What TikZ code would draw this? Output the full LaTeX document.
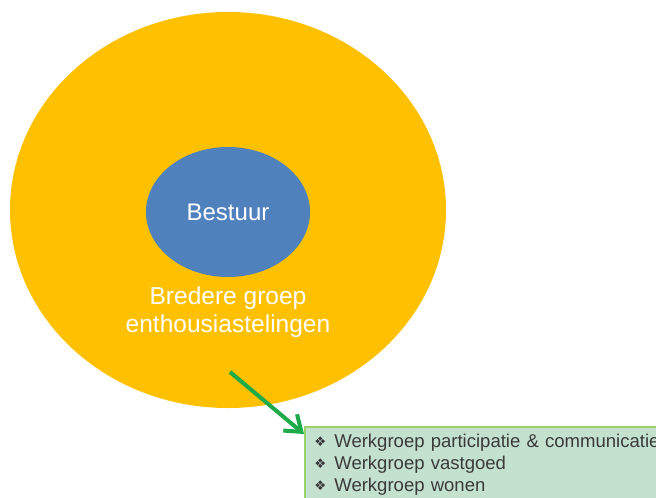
\documentclass[tikz,border=0pt]{standalone}
\usepackage{fontspec}
\setmainfont{Liberation Sans}
\newfontfamily\symfont{DejaVu Sans}
\usetikzlibrary{shapes.geometric,arrows.meta}

\definecolor{groeporange}{HTML}{FFC000}
\definecolor{bestuurblue}{HTML}{4F81BD}
\definecolor{pijlgreen}{HTML}{1DAA48}
\definecolor{boxfill}{HTML}{C4E1CF}
\definecolor{boxline}{HTML}{9AD26A}
\definecolor{boxtext}{HTML}{3A3A3A}

\newcommand{\wgbullet}{\makebox[15pt][l]{\raisebox{0.5pt}{\symfont\fontsize{10}{10}\selectfont ❖}}}

\tikzset{
  blob/.style={ellipse, inner sep=0pt, text=white},
  wgbox/.style={draw=boxline, line width=1.5pt, fill=boxfill, text=boxtext,
    anchor=north west, align=left, text width=380pt, inner xsep=7pt, inner ysep=5pt,
    font=\fontsize{13.9}{16.5}\selectfont}
}

\begin{document}
\begin{tikzpicture}[x=0.75pt, y=-0.75pt]
      \useasboundingbox (0,0) rectangle (656,497);
      \clip (0,0) rectangle (656,497);

      % buitenste groep
      \node[blob, fill=groeporange, minimum width=327pt, minimum height=297pt] (groep) at (228,210) {};
      \node[blob, fill=bestuurblue, minimum width=123pt, minimum height=97.5pt,
        font=\fontsize{18}{18}\selectfont] (bestuur) at (228,212) {Bestuur};
      \node[text=white, align=center, font=\fontsize{18.4}{20.5}\selectfont] (bredere) at (228,312)
        {Bredere groep\\enthousiastelingen};

      % werkgroepen
      \node[wgbox] (werkgroepen) at (304,426)
        {\wgbullet Werkgroep participatie \& communicatie\\
         \wgbullet Werkgroep vastgoed\\
         \wgbullet Werkgroep wonen\\[12pt]};

      \coordinate (pijlstart) at (230,372);
      \draw[pijlgreen, line width=3pt, -{Straight Barb[length=11pt, width=16pt, line width=3pt]}]
        (pijlstart) -- ([yshift=-6pt]werkgroepen.north west);
\end{tikzpicture}
\end{document}
